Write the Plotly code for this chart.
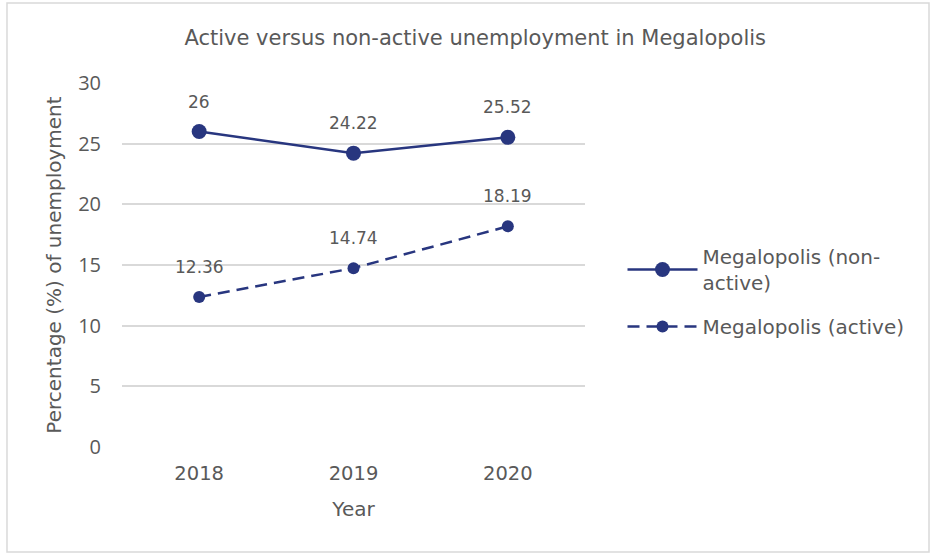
import plotly.graph_objects as go

years = ["2018", "2019", "2020"]
non_active = [26, 24.22, 25.52]
active = [12.36, 14.74, 18.19]
non_active_labels = ["26", "24.22", "25.52"]
active_labels = ["12.36", "14.74", "18.19"]

navy = "#28367f"
txt = "#595959"
font = "DejaVu Sans"

fig = go.Figure()
fig.add_trace(go.Scatter(
    x=years, y=non_active, mode="lines+markers",
    name="Megalopolis (non-<br>active)", legendgroup="a",
    line=dict(color=navy, width=2.5),
    marker=dict(color=navy, size=15),
))
fig.add_trace(go.Scatter(
    x=years, y=active, mode="lines+markers",
    name="Megalopolis (active)", legendgroup="b",
    line=dict(color=navy, width=2.5, dash="12px,7px"),
    marker=dict(color=navy, size=12),
))

# data labels, placed at each category's index on the category axis
for ys, labs in [(non_active, non_active_labels), (active, active_labels)]:
    for i, (yv, lb) in enumerate(zip(ys, labs)):
        fig.add_annotation(x=i, y=yv, text=lb, showarrow=False, yshift=30,
                           font=dict(family=font, size=17, color=txt))

fig.add_shape(type="rect", xref="paper", yref="paper",
              x0=-0.2484, x1=1.743, y0=-0.2885, y1=1.2198,
              line=dict(color="#d9d9d9", width=1.5), layer="below")

fig.update_layout(
    width=930, height=554,
    margin=dict(l=122, r=345, t=83, b=107),
    paper_bgcolor="white", plot_bgcolor="white",
    font=dict(family=font, size=16, color=txt),
    title=dict(text="Active versus non-active unemployment in Megalopolis",
               x=0.511, xanchor="center", y=0.932, yanchor="middle",
               font=dict(family=font, size=21, color=txt)),
    showlegend=True,
    legend=dict(x=1.081, y=0.577, xanchor="left", yanchor="top",
                font=dict(family=font, size=20, color=txt),
                itemwidth=70, tracegroupgap=15, bgcolor="rgba(0,0,0,0)"),
    xaxis=dict(type="category", categoryorder="array", categoryarray=years,
               range=[-0.5, 2.5],
               title=dict(text="Year", font=dict(size=20, color=txt), standoff=18),
               showgrid=False, showline=False, ticks="", ticklabelstandoff=12,
               tickfont=dict(size=19.5, color=txt)),
    yaxis=dict(title=dict(text="Percentage (%) of unemployment", font=dict(size=20, color=txt), standoff=11),
               range=[0, 30], dtick=5, showgrid=True, gridcolor="#d9d9d9", gridwidth=1.5,
               zeroline=False, showline=False, ticks="", ticklabelstandoff=20,
               tickfont=dict(family="Open Sans", size=20, color=txt)),
)

fig.write_html("out.html", post_script="document.body.style.margin='0';",
               config={"displayModeBar": False})
